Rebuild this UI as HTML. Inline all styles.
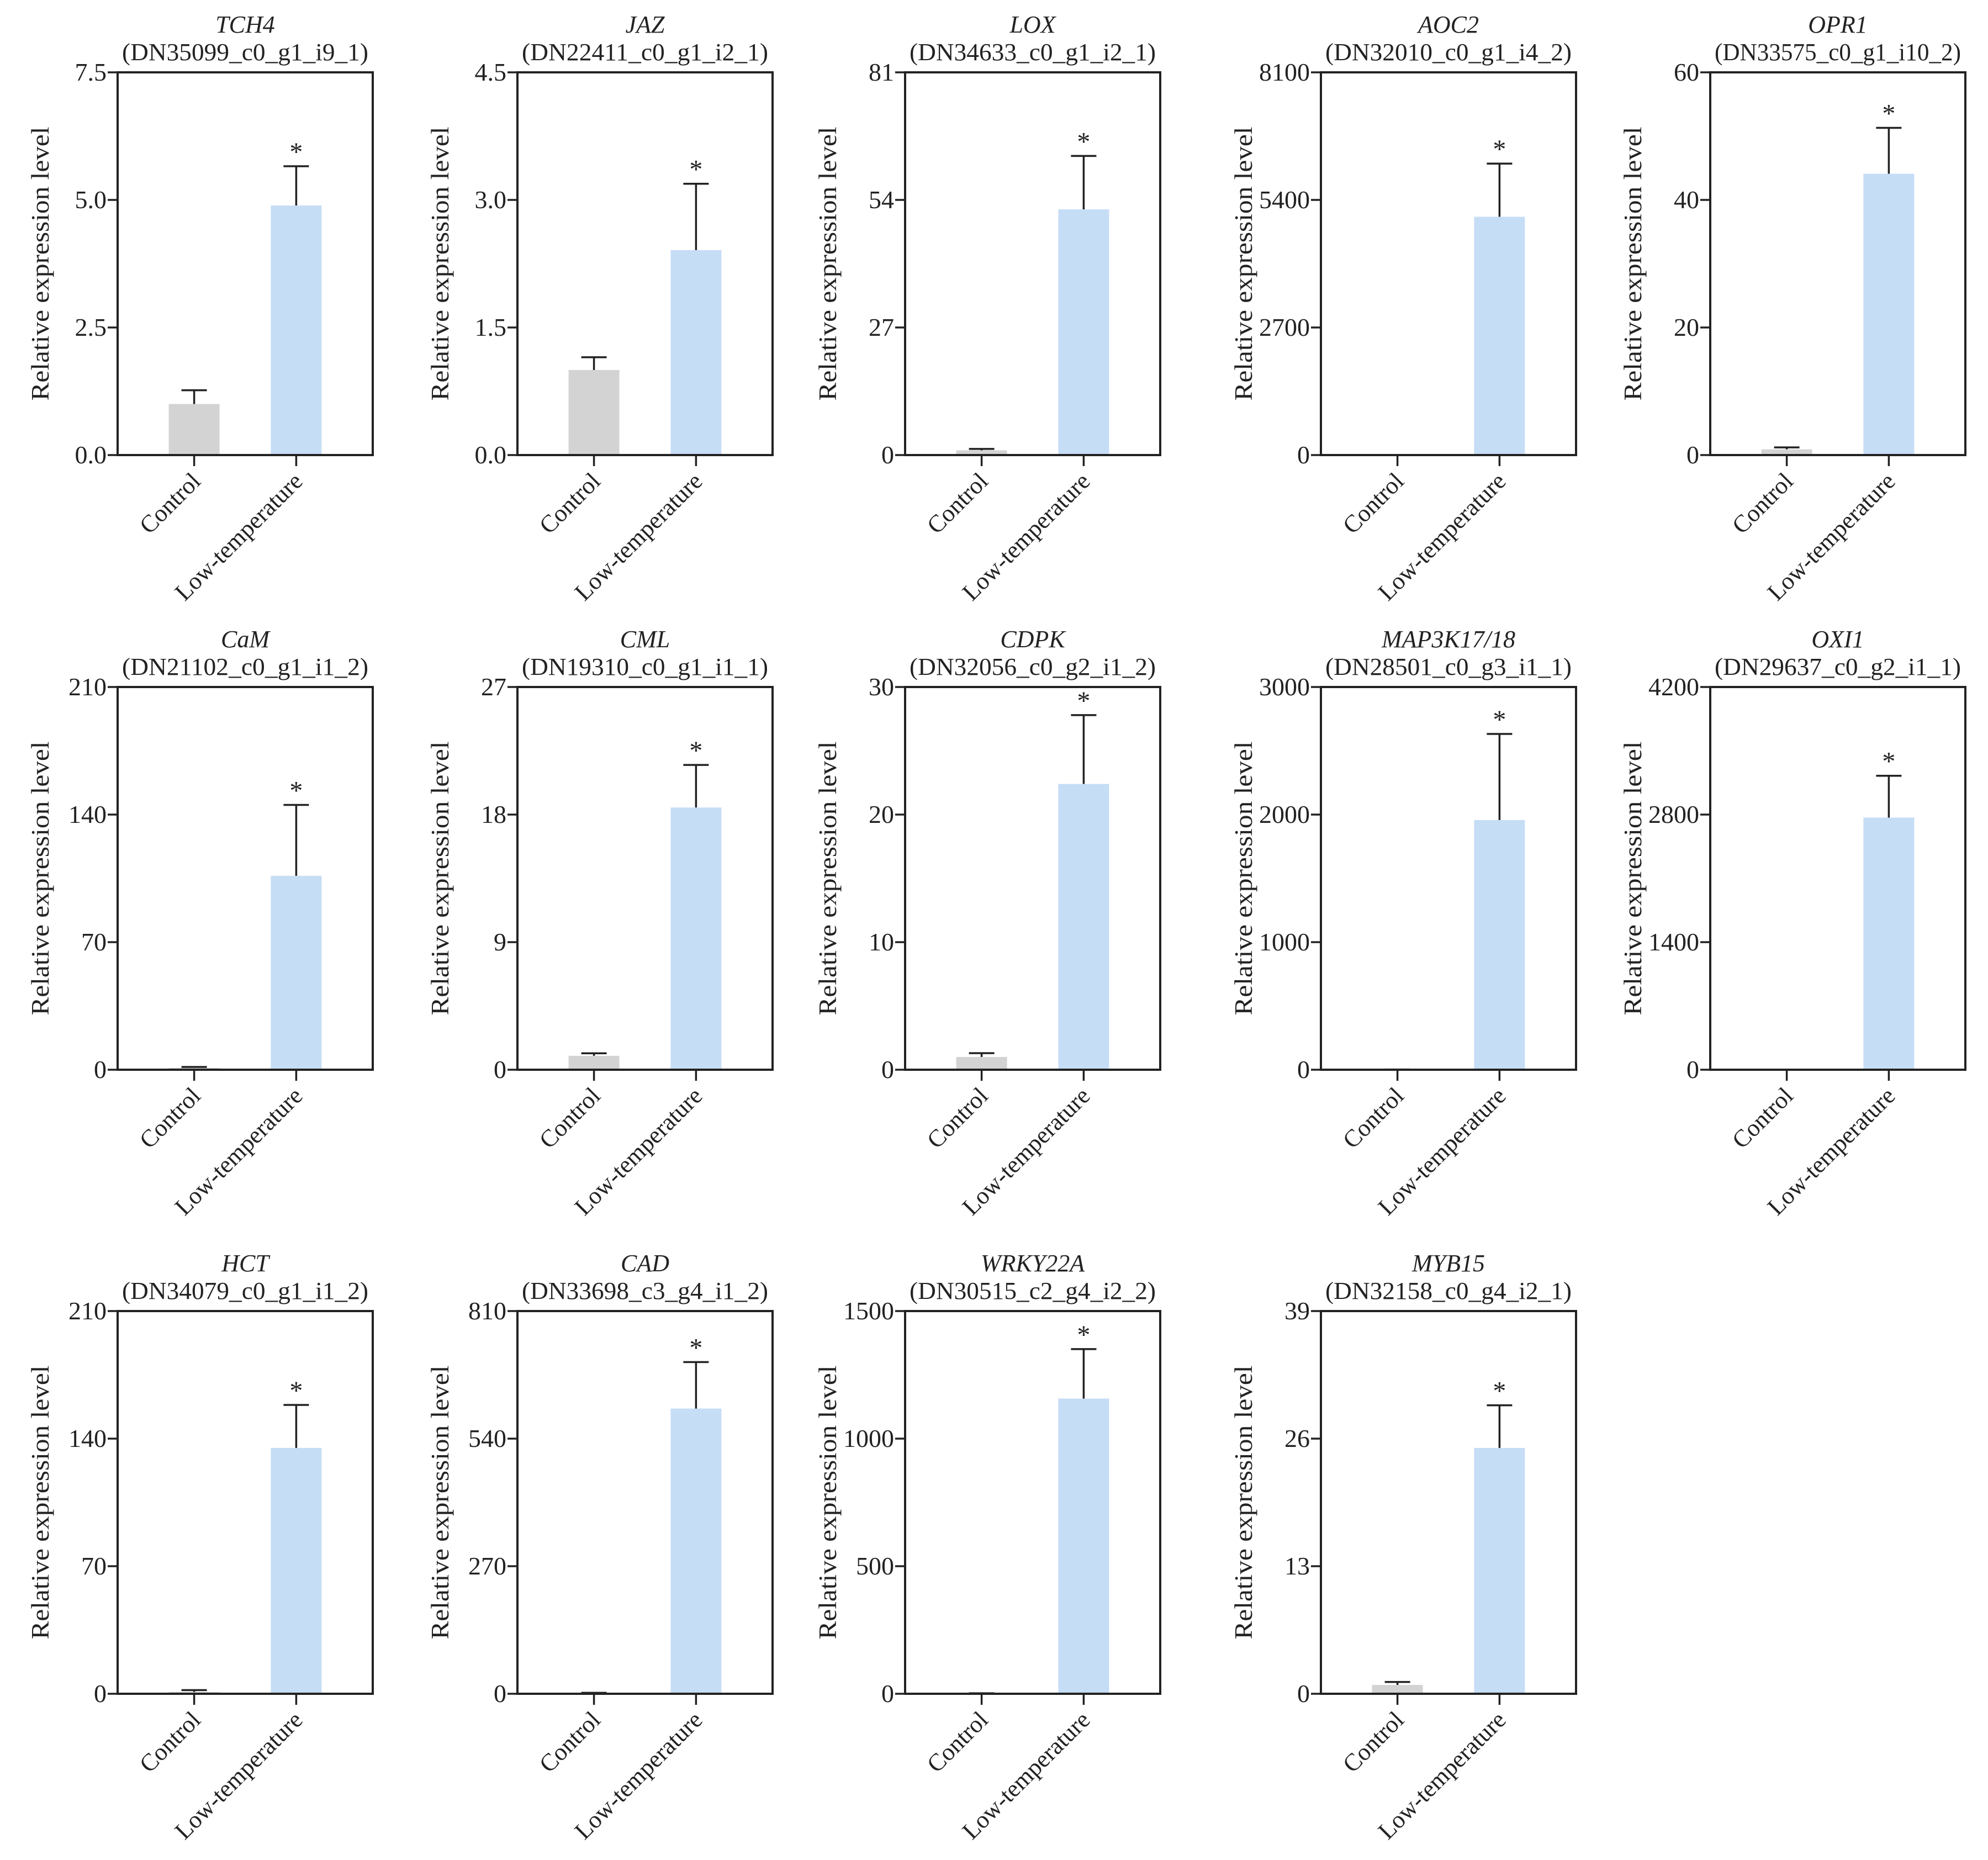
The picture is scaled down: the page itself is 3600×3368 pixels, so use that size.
<!DOCTYPE html>
<html><head><meta charset="utf-8">
<style>
html,body{margin:0;padding:0;background:#fff;}
svg{display:block;font-family:"Liberation Serif","Times New Roman",serif;}
</style></head>
<body>
<svg id="fig" xmlns="http://www.w3.org/2000/svg" width="3600" height="3368" viewBox="0 0 3600 3368"></svg>
<script>
const genes = ["TCH4","JAZ","LOX","AOC2","OPR1","CaM","CML","CDPK","MAP3K17/18","OXI1","HCT","CAD","WRKY22A","MYB15"];
const ids = ["(DN35099_c0_g1_i9_1)","(DN22411_c0_g1_i2_1)","(DN34633_c0_g1_i2_1)","(DN32010_c0_g1_i4_2)","(DN33575_c0_g1_i10_2)","(DN21102_c0_g1_i1_2)","(DN19310_c0_g1_i1_1)","(DN32056_c0_g2_i1_2)","(DN28501_c0_g3_i1_1)","(DN29637_c0_g2_i1_1)","(DN34079_c0_g1_i1_2)","(DN33698_c3_g4_i1_2)","(DN30515_c2_g4_i2_2)","(DN32158_c0_g4_i2_1)"];
const yMax = [7.5,4.5,81,8100,60,210,27,30,3000,4200,210,810,1500,39];
const tickLabels = [
 ["0.0","2.5","5.0","7.5"],["0.0","1.5","3.0","4.5"],["0","27","54","81"],["0","2700","5400","8100"],["0","20","40","60"],
 ["0","70","140","210"],["0","9","18","27"],["0","10","20","30"],["0","1000","2000","3000"],["0","1400","2800","4200"],
 ["0","70","140","210"],["0","270","540","810"],["0","500","1000","1500"],["0","13","26","39"]];
const categories = ["Control","Low-temperature"];
const controlMean = [1.0,1.0,1.0,1,0.9,1,0.98,1.0,1,1,1,1,1,0.9];
const controlErr = [0.27,0.15,0.3,0.5,0.3,0.5,0.18,0.3,0.5,0.5,1,1,1,0.3];
const lowTempMean = [4.89,2.41,52,5043,44.1,106.4,18.5,22.4,1957,2767,134.9,603.6,1157,25.05];
const lowTempErr = [0.77,0.78,11.3,1126,7.2,38.9,3.0,5.4,675,459,23.6,98.4,194,4.35];

const colLeft=[213,937,1639,2392,3097], rowTop=[131,1244,2374];
const W=462, H=693;
const NS="http://www.w3.org/2000/svg";
const svg=document.getElementById('fig');
function mk(tag,attrs,parent,text){const e=document.createElementNS(NS,tag);for(const k in attrs)e.setAttribute(k,attrs[k]);if(text!==undefined)e.textContent=text;parent.appendChild(e);return e;}

genes.forEach((g,i)=>{
  const L=colLeft[i%5], T=rowTop[Math.floor(i/5)], B=T+H, R=L+W;
  const grp=mk('g',{},svg);
  
  
  const y=v=>B-v/yMax[i]*H;
  const x=c=>L+W*(c===0?0.30:0.70);
  const t1=mk('text',{x:L+W/2,y:T-72,'text-anchor':'middle','font-size':44,'font-style':'italic',fill:'#222'},grp,g);
  
  
  const t2=mk('text',{x:L+W/2,y:T-22,'text-anchor':'middle','font-size':44,fill:'#222',textLength:446,lengthAdjust:'spacingAndGlyphs'},grp,ids[i]);
  
  
  const vals=[controlMean[i],lowTempMean[i]], errs=[controlErr[i],lowTempErr[i]], cols=['#d3d3d3','#c6ddf6'];
  vals.forEach((v,c)=>{
    const bw=92;
    const r=mk('rect',{x:x(c)-bw/2,y:y(v),width:bw,height:B-y(v),fill:cols[c]},grp);
    
    
    const eb=mk('path',{d:`M${x(c)},${y(v)}V${y(v+errs[c])}M${x(c)-23},${y(v+errs[c])}H${x(c)+23}`,stroke:'#222','stroke-width':3.5,fill:'none'},grp);
    
    
  });
  const st=mk('text',{x:x(1),y:y(lowTempMean[i]+lowTempErr[i])-10,'text-anchor':'middle','font-size':48,fill:'#222'},grp,'*');
  
  
  const fr=mk('rect',{x:L,y:T,width:W,height:H,fill:'none',stroke:'#222','stroke-width':4},grp);
  
  
  tickLabels[i].forEach((lab,k)=>{
    const yy=B-k*H/3;
    const tk=mk('line',{x1:L-18,x2:L,y1:yy,y2:yy,stroke:'#222','stroke-width':3.5},grp);
    
    
    const tl=mk('text',{x:L-20,y:yy+15,'text-anchor':'end','font-size':46,fill:'#222'},grp,lab);
    
    
  });
  const yl=mk('text',{x:0,y:0,'text-anchor':'middle','font-size':46,fill:'#222',textLength:496,lengthAdjust:'spacingAndGlyphs',transform:`translate(${L-125},${T+H/2}) rotate(-90)`},grp,'Relative expression  level');
  
  
  categories.forEach((cat,c)=>{
    const tk=mk('line',{x1:x(c),x2:x(c),y1:B,y2:B+20,stroke:'#222','stroke-width':3.5},grp);
    
    
    const ax=x(c)+14, ay=B+50;
    const tl=mk('text',{x:0,y:0,'text-anchor':'end','font-size':44,fill:'#222',transform:`translate(${ax},${ay}) rotate(-45)`},grp,cat);
    
    
  });
});
</script>
</body></html>
